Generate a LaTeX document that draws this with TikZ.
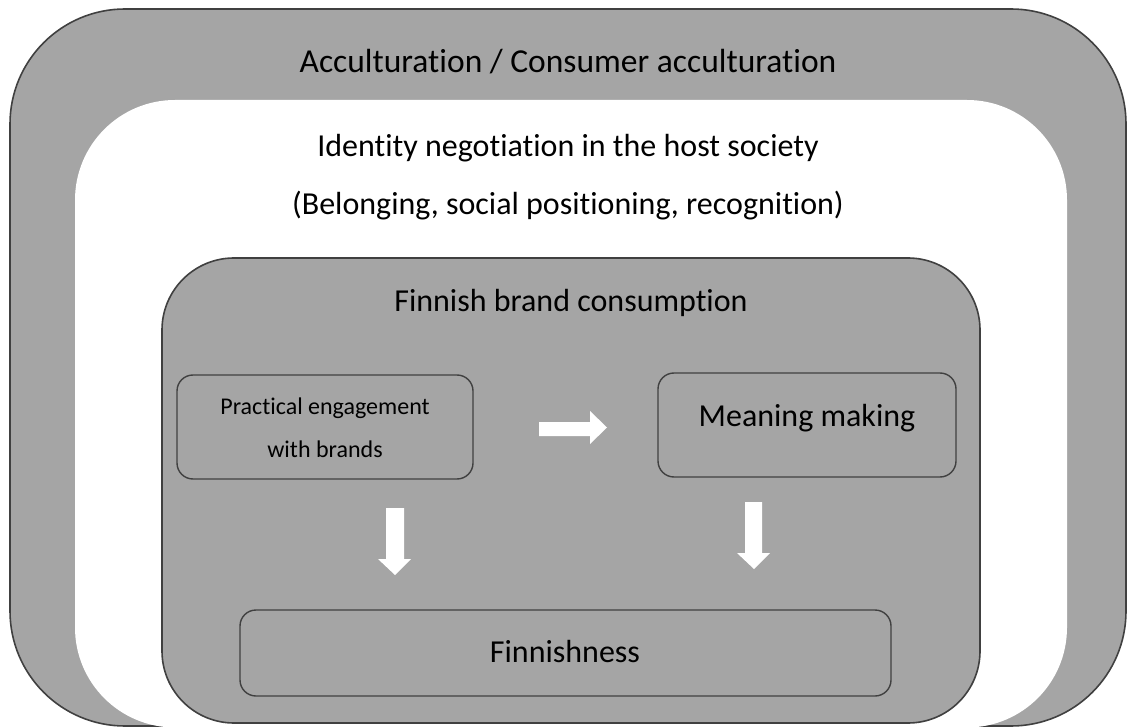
\documentclass[tikz,border=0pt]{standalone}
\usepackage{fontspec}
\setmainfont[Ligatures={NoCommon}]{Carlito}
\begin{document}
\begin{tikzpicture}[x=1pt,y=-1pt,
  panel/.style={fill=panelgray,draw=edgegray,line width=1.6pt},
  innerbox/.style={draw=edgegray,line width=1.4pt,rounded corners=16pt},
  blockarrow/.style={fill=white,draw=none},
  lbl/.style={font=\fontsize{32}{38}\selectfont,text=black,inner sep=0pt}]
\definecolor{panelgray}{HTML}{A5A5A5}
\definecolor{edgegray}{HTML}{404040}
\useasboundingbox (0,0) rectangle (1127,727);
% outer acculturation frame
\path[panel,rounded corners=115pt] (10,9) rectangle (1126,726);
% white identity area
\fill[white,rounded corners=100pt] (75,100) rectangle (1067,727.5);
% brand consumption panel
\path[panel,rounded corners=72pt] (162,258) rectangle (980,723);
% inner boxes
\draw[innerbox] (177,375) rectangle (473,479);
\draw[innerbox] (658,373) rectangle (956,477);
\draw[innerbox] (240,610) rectangle (891,696);
\node[lbl,font=\fontsize{33.5}{38}\selectfont] (acc) at (568,62) {Acculturation / Consumer acculturation};
\node[lbl] (ident) at (568,148) {Identity negotiation in the host society};
\node[lbl] (belong) at (568,206) {(Belonging, social positioning, recognition)};
\node[lbl] (fbc) at (571,303) {Finnish brand consumption};
\node[inner sep=0pt,align=center,font=\fontsize{24}{43}\selectfont] (prac) at (325,428) {Practical engagement\\with brands};
\node[lbl] (mean) at (807,418) {Meaning making};
\node[lbl] (finn) at (565,652) {Finnishness};
% block arrows
\fill[blockarrow] (539,422) -- (590,422) -- (590,411) -- (607,427.5) -- (590,444) -- (590,436) -- (539,436) -- cycle;
\fill[blockarrow] (386,508) -- (404,508) -- (404,559) -- (411,559) -- (395,575) -- (378,559) -- (386,559) -- cycle;
\fill[blockarrow] (745,502) -- (762,502) -- (762,553) -- (770,553) -- (754,569) -- (737,553) -- (745,553) -- cycle;
\end{tikzpicture}
\end{document}
